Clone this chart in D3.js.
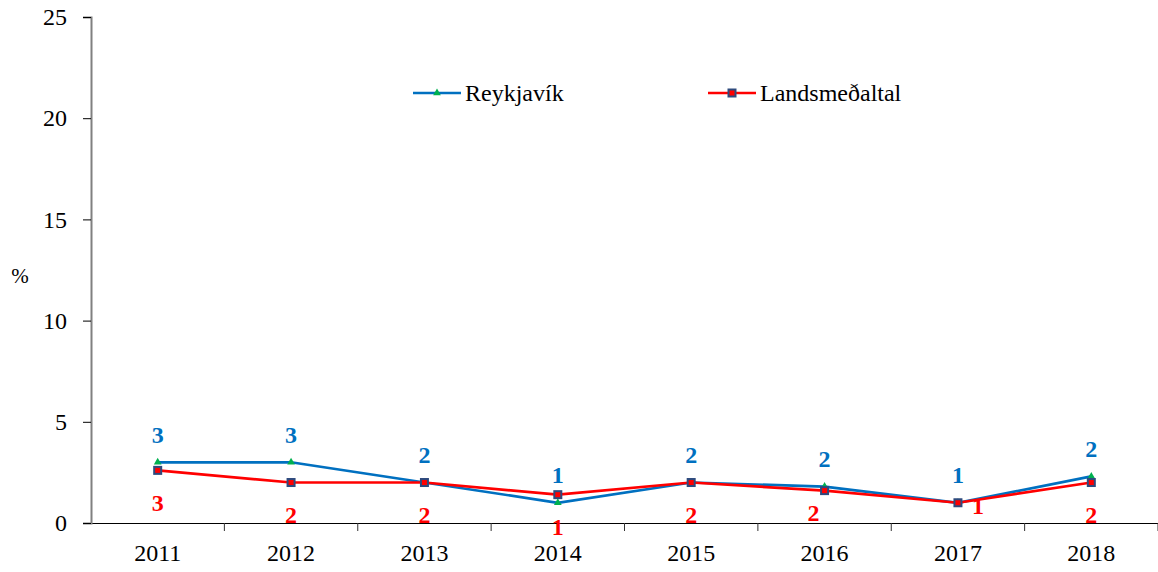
<!DOCTYPE html>
<html>
<head>
<meta charset="utf-8">
<script src="https://cdn.jsdelivr.net/npm/d3@7"></script>
<style>
  html, body { margin: 0; padding: 0; background: #fff; }
  svg text { font-family: "Liberation Serif", "Times New Roman", Times, serif; }
</style>
</head>
<body>
<div id="chart"></div>
<script>
const years = ["2011", "2012", "2013", "2014", "2015", "2016", "2017", "2018"];
const reykjavik = [3.0, 3.0, 2.0, 1.0, 2.0, 1.8, 1.0, 2.3];
const landsmedaltal = [2.6, 2.0, 2.0, 1.4, 2.0, 1.6, 1.0, 2.0];
const yTicks = [0, 5, 10, 15, 20, 25];
// where the red labels sit relative to their point
const landsLabelSide = ["below", "below", "below", "below", "below", "belowleft", "right", "below"];

const FONT = "'Liberation Serif', 'Times New Roman', serif";
const width = 1158, height = 572;
const margin = { top: 17, right: 0, bottom: 49, left: 91 };

const labelOffset = {
  below: [0, 32],
  belowleft: [-11, 22],
  right: [20, 3]
};

const svg = d3.select("#chart").append("svg")
  .attr("width", width)
  .attr("height", height)
  .attr("font-family", FONT);

const x = d3.scaleBand()
  .domain(years)
  .range([margin.left, width - margin.right]);

const y = d3.scaleLinear()
  .domain([0, 25])
  .range([height - margin.bottom, margin.top]);

// ── axes ──
const xAxis = svg.append("g")
  .attr("transform", `translate(0,${y(0)})`)
  .call(d3.axisBottom(x).tickSize(0).tickPadding(21))
  .attr("font-family", FONT);
xAxis.select(".domain").attr("stroke", "#000").attr("stroke-width", 1);
xAxis.selectAll("text")
  .attr("font-size", 24)
  .attr("fill", "#000");

// category boundary ticks
const bounds = years.slice(1).map(d => x(d)).concat([x(years[years.length - 1]) + x.bandwidth()]);
svg.append("g").selectAll("line")
  .data(bounds)
  .join("line")
  .attr("x1", d => d).attr("x2", d => d)
  .attr("y1", y(0)).attr("y2", y(0) + 8)
  .attr("stroke", "#333").attr("stroke-width", 1);

const yAxis = svg.append("g")
  .attr("transform", `translate(${margin.left},0)`)
  .call(d3.axisLeft(y).tickValues(yTicks).tickSize(8).tickPadding(16))
  .attr("font-family", FONT);
yAxis.select(".domain").attr("stroke", "#808080").attr("stroke-width", 2);
yAxis.selectAll(".tick line").attr("stroke", "#000");
yAxis.selectAll("text")
  .attr("font-size", 24)
  .attr("fill", "#000");

svg.append("text")
  .attr("x", 20).attr("y", 276)
  .attr("dy", "0.35em")
  .attr("text-anchor", "middle")
  .attr("font-size", 21)
  .text("%");

// ── series ──
const cx = d => x(d) + x.bandwidth() / 2;

const series = [
  { name: "Reykjavík", values: reykjavik, color: "#0070C0", marker: "tri" },
  { name: "Landsmeðaltal", values: landsmedaltal, color: "#FF0000", marker: "sq" }
];

const line = d3.line()
  .x((d, i) => cx(years[i]))
  .y(d => y(d));

function drawMarker(g, type) {
  if (type === "tri") {
    g.append("path")
      .attr("d", d3.symbol(d3.symbolTriangle, 26)())
      .attr("fill", "#00B050");
  } else {
    g.append("rect")
      .attr("x", -3.5).attr("y", -3.5)
      .attr("width", 7).attr("height", 7)
      .attr("fill", "#FF0000")
      .attr("stroke", "#2E4A7D").attr("stroke-width", 2);
  }
}

series.forEach(s => {
  svg.append("path")
    .datum(s.values)
    .attr("fill", "none")
    .attr("stroke", s.color)
    .attr("stroke-width", 2.7)
    .attr("d", line);
});

series.forEach(s => {
  s.values.forEach((v, i) => {
    const g = svg.append("g").attr("transform", `translate(${cx(years[i])},${y(v)})`);
    drawMarker(g, s.marker);
  });
});

// ── data labels ──
const labelSize = 24;

svg.append("g").selectAll("text")
  .data(reykjavik)
  .join("text")
  .attr("x", (d, i) => cx(years[i]))
  .attr("y", d => y(d) - 28)
  .attr("dy", "0.35em")
  .attr("text-anchor", "middle")
  .attr("font-size", labelSize)
  .attr("font-weight", "bold")
  .attr("fill", "#0070C0")
  .text(d => Math.round(d));

svg.append("g").selectAll("text")
  .data(landsmedaltal)
  .join("text")
  .attr("x", (d, i) => cx(years[i]) + labelOffset[landsLabelSide[i]][0])
  .attr("y", (d, i) => y(d) + labelOffset[landsLabelSide[i]][1])
  .attr("dy", "0.35em")
  .attr("text-anchor", "middle")
  .attr("font-size", labelSize)
  .attr("font-weight", "bold")
  .attr("fill", "#FF0000")
  .text(d => Math.round(d));

// ── legend ──
const legendItems = [
  { s: series[0], x: 413 },
  { s: series[1], x: 708 }
];
const legendY = 93;
legendItems.forEach(it => {
  const g = svg.append("g").attr("transform", `translate(${it.x},${legendY})`);
  g.append("line")
    .attr("x1", 0).attr("x2", 48)
    .attr("stroke", it.s.color).attr("stroke-width", 2.7);
  const m = g.append("g").attr("transform", "translate(24,0)");
  drawMarker(m, it.s.marker);
  g.append("text")
    .attr("x", 52).attr("dy", "0.35em")
    .attr("font-size", 24)
    .text(it.s.name);
});
</script>
</body>
</html>
